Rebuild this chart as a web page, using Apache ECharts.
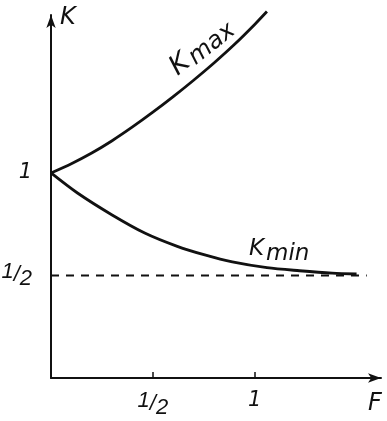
<!DOCTYPE html>
<html>
<head>
<meta charset="utf-8">
<script src="https://cdn.jsdelivr.net/npm/echarts@6/dist/echarts.min.js"></script>
<style>
html,body{margin:0;padding:0;background:#fff;}
#c{width:387px;height:421px;}
</style>
</head>
<body>
<div id="c"></div>
<script>
// Data
var kmaxF = [0, 0.1, 0.2, 0.3, 0.4, 0.5, 0.6, 0.7, 0.8, 0.9, 1.0, 1.06];
var kmaxK = [1.0, 1.045, 1.097, 1.157, 1.224, 1.296, 1.372, 1.452, 1.536, 1.626, 1.724, 1.787];
var kminF = [0, 0.13, 0.30, 0.46, 0.62, 0.755, 0.89, 1.06, 1.22, 1.38, 1.50];
var kminK = [1.0, 0.902, 0.795, 0.707, 0.642, 0.600, 0.566, 0.538, 0.523, 0.511, 0.507];
var refF = [0, 1.55];
var refK = [0.5, 0.5];
var xTicks = [0.5, 1];
var xTickLabels = ['{a|1}{b|/}{c|2}', '{d|1}'];
var yTicks = [0.5, 1];
var yTickLabels = ['{a|1}{b|/}{c|2}', '{d|1}'];

function zip(a, b) { return a.map(function (v, i) { return [v, b[i]]; }); }
var ink = '#111';
var font = 'DejaVu Sans';
var narrow = '"Liberation Sans Narrow", "Liberation Sans", sans-serif';
var xMax = 1.62, yMax = 1.77;
var it = {fontStyle: 'italic', color: ink};
var fracRich = {
  a: Object.assign({fontFamily: narrow, fontSize: 22, padding: [0, 0, 7, 0]}, it),
  b: Object.assign({fontFamily: narrow, fontSize: 22, padding: [0, 0, 2, 0]}, it),
  c: Object.assign({fontFamily: narrow, fontSize: 22, padding: [7, 0, 0, 0]}, it),
  d: Object.assign({fontFamily: font, fontSize: 21}, it)
};

var chart = echarts.init(document.getElementById('c'), null, {renderer: 'canvas'});
chart.setOption({
  backgroundColor: '#fff',
  animation: false,
  grid: {left: 51, right: 6, top: 15, bottom: 43, containLabel: false, outerBoundsMode: 'none'},
  xAxis: {
    type: 'value', min: 0, max: xMax,
    axisLine: {show: true, symbol: ['none', 'arrow'], symbolSize: [7, 13], lineStyle: {color: ink, width: 2}},
    axisTick: {show: true, inside: true, length: 6, customValues: xTicks, lineStyle: {color: ink, width: 1.5}},
    axisLabel: {show: true, customValues: xTicks, margin: 12, color: ink, fontFamily: font, fontStyle: 'italic', fontSize: 21,
      rich: fracRich,
      formatter: function (v) { var i = xTicks.indexOf(v); return i >= 0 ? xTickLabels[i] : ''; }},
    splitLine: {show: false}
  },
  yAxis: {
    type: 'value', min: 0, max: yMax,
    axisLine: {show: true, symbol: ['none', 'arrow'], symbolSize: [7, 13], lineStyle: {color: ink, width: 2}},
    axisTick: {show: false},
    axisLabel: {show: true, customValues: yTicks, margin: 19, color: ink, fontFamily: font, fontStyle: 'italic', fontSize: 21,
      rich: fracRich,
      formatter: function (v) { var i = yTicks.indexOf(v); return i >= 0 ? yTickLabels[i] : ''; }},
    splitLine: {show: false}
  },
  series: [
    {name: 'Kmax', type: 'line', data: zip(kmaxF, kmaxK), smooth: 0.3, showSymbol: false, clip: false,
      lineStyle: {color: ink, width: 2.8}},
    {name: 'Kmin', type: 'line', data: zip(kminF, kminK), smooth: 0.3, showSymbol: false, clip: false,
      lineStyle: {color: ink, width: 2.8}},
    {name: 'half', type: 'line', data: zip(refF, refK), showSymbol: false, clip: false,
      lineStyle: {color: ink, width: 2, type: [8, 7]}}
  ]
});

function px(f, k) { return chart.convertToPixel({gridIndex: 0}, [f, k]); }
var pMax = px(0.74, 1.61);
var pMin = px(1.12, 0.63);
var pK = px(0, yMax);
var pF = px(xMax, 0);
var gt = {fontFamily: font, fontStyle: 'italic', fill: ink};
chart.setOption({
  graphic: [
    {type: 'text', x: pK[0] + 9, y: pK[1] + 3,
      style: Object.assign({text: 'K', fontSize: 24, align: 'left', verticalAlign: 'middle'}, gt)},
    {type: 'text', x: pF[0] - 6, y: pF[1] + 14,
      style: Object.assign({text: 'F', fontSize: 24, align: 'center', verticalAlign: 'top'}, gt)},
    {type: 'text', x: pMax[0], y: pMax[1], rotation: 38.5 * Math.PI / 180,
      style: {text: '{k|K}{s|max}', fill: ink, align: 'center', verticalAlign: 'middle',
        rich: {k: Object.assign({fontSize: 27}, gt),
               s: Object.assign({fontSize: 24, padding: [7, 0, 0, 3]}, gt)}}},
    {type: 'text', x: pMin[0], y: pMin[1], rotation: 0,
      style: {text: '{k|K}{s|min}', fill: ink, align: 'center', verticalAlign: 'middle',
        rich: {k: Object.assign({fontSize: 23}, gt),
               s: Object.assign({fontSize: 23, padding: [11, 0, 0, 2]}, gt)}}}
  ]
});
</script>
</body>
</html>
